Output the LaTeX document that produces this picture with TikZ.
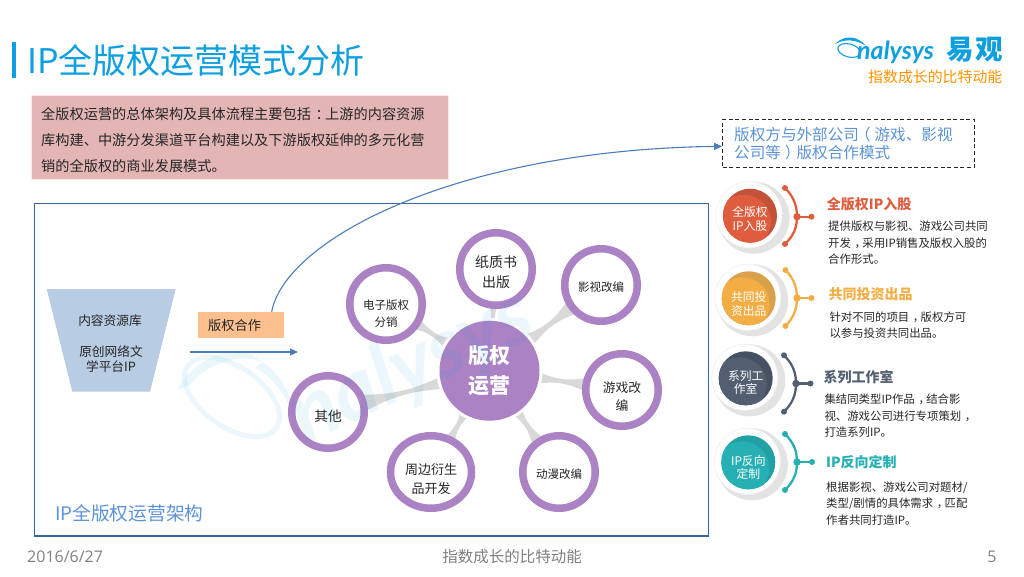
\documentclass[tikz,border=0pt]{standalone}
\usepackage{fontspec}
\setmainfont{Noto Sans CJK SC}
\newfontfamily\latinf{Open Sans}
\newfontfamily\logof{Lato}
\usetikzlibrary{calc,arrows.meta,shapes.geometric}
\definecolor{ringp}{HTML}{AB82C4}
\definecolor{titleb}{HTML}{0E9FE0}
\definecolor{framec}{HTML}{3A659F}
\definecolor{arrowc}{HTML}{4A7EBB}
\definecolor{labelb}{HTML}{5B93D6}
\definecolor{bodyk}{HTML}{262626}
\definecolor{redA}{HTML}{E05C3E}\definecolor{redB}{HTML}{C25239}
\definecolor{orgA}{HTML}{F2AE45}\definecolor{orgB}{HTML}{D9A14C}
\definecolor{slaA}{HTML}{515F70}\definecolor{slaB}{HTML}{465262}
\definecolor{teaA}{HTML}{27B0B3}\definecolor{teaB}{HTML}{22A0A3}
\newcommand\fs[1]{\fontsize{#1}{#1}\selectfont}
\newcommand\fsl[2]{\fontsize{#1}{#2}\selectfont}
% full-width punctuation centred in its cell, as in the reference
\newcommand\pc[1]{\hspace{.32em}#1\hspace{-.32em}}
\newcommand\pl[1]{\hspace{-.25em}#1\hspace{.25em}}
\newcommand\pr[1]{\hspace{.25em}#1\hspace{-.25em}}
\tikzset{
  ring/.style={circle,draw=ringp,line width=7.5pt,fill=white,minimum size=72.5pt,inner sep=0pt},
  ringe/.style={ellipse,draw=ringp,line width=7.5pt,fill=white,minimum width=81pt,minimum height=72.5pt,inner sep=0pt},
  ringtext/.style={inner sep=0pt,align=center,text=bodyk},
  flow/.style={draw=arrowc,line width=1.1pt,-{Triangle[length=8pt,width=7pt]}},
  itemtitle/.style={anchor=west,inner sep=0pt,font=\fs{14}\bfseries},
  itembody/.style={anchor=west,inner sep=0pt,align=left,text=bodyk,font=\fsl{11.4}{16.4}},
  foot/.style={inner sep=0pt,text=black!50},
  badge/.style={inner sep=0pt,align=center,text=white,font=\fsl{11.8}{13.4}}
}
% tapered grey link: a, b, radius at a, radius at b, half-width at a, at b
\newcommand\taper[6]{%
  \path ($(#1)!#3!(#2)$) coordinate (tA) ($(#2)!#4!(#1)$) coordinate (tB);
  \path ($(tA)!.4!(tB)$) coordinate (tM) ($(tA)!.6!(tB)$) coordinate (tN);
  \fill[black!15] ($(tA)!#5!90:(tB)$) .. controls (tM) and (tN) .. ($(tB)!#6!-90:(tA)$)
    -- ($(tB)!#6!90:(tA)$) .. controls (tN) and (tM) .. ($(tA)!#5!-90:(tB)$) -- cycle;
}
% badge disc: x, y, light colour, dark colour, text, node name, text offset
\newcommand\badgedisc[7]{%
  \fill[black!11] (#1+3.6,#2+2) circle (36);
  \filldraw[fill=white,draw=black!5,line width=.7pt] (#1-1,#2-1) circle (33);
  \fill[#4] (#1,#2) circle (27);
  \begin{scope}
    \clip (#1,#2) circle (27);
    \fill[#3] (#1-6,#2+6) circle (27);
  \end{scope}
  \node[badge] (#6) at (#1,#2+#7) {#5};
}
% brace: x of ends, x of mid, x of tip, y top, y mid, y bottom, colour
\newcommand\fork[7]{%
  \draw[#7,line width=2.3pt] (#1,#4) .. controls (#2-4,#4+8) and (#2,#5-12) .. (#2,#5) .. controls (#2,#5+12) and (#2-4,#6-8) .. (#1,#6);
  \draw[#7,line width=2.3pt] (#2,#5) -- (#3,#5);
  \fill[#7] (#1,#4) circle (3) (#1,#6) circle (3) (#2,#5) circle (3.7) (#3,#5) circle (3);
}
\begin{document}
\begin{tikzpicture}[x=1pt,y=-1pt]
\useasboundingbox (0,0) rectangle (1024,576);
% title
\fill[titleb] (12,42) rectangle (16,78);
\node[anchor=west,inner sep=0pt,text=titleb,font=\fs{34}] (title) at (27,60) {IP全版权运营模式分析};
% logo
\draw[titleb,line width=1.1pt,rotate around={-15:(849,50.5)}] (849,50.5) ellipse (11.5 and 6.5);
\fill[titleb] (835,44) .. controls (845,34) and (858,36) .. (866,46) .. controls (857,40) and (846,38) .. (835,44) -- cycle;
\node[anchor=west,inner sep=0pt,text=titleb,font=\logof\itshape\bfseries\fs{25}] (logoname) at (857,52) {nalysys};
\node[anchor=west,inner sep=0pt,text=titleb,font=\bfseries\fs{27.5}] (logocn) at (946,50) {易\hspace{2pt}观};
\node[anchor=west,inner sep=0pt,text=orange!85!yellow,font=\fs{14.9}] (slogan) at (868,77) {指数成长的比特动能};
% intro
\fill[draw=white!90!red,fill={rgb,255:red,228;green,181;blue,181}] (30.7,94.7) rectangle (448.3,179.3);
\node[anchor=west,inner sep=0pt,align=left,text=bodyk,font=\fsl{14.2}{25.8}] (introtext) at (41,140) {全版权运营的总体架构及具体流程主要包括\pc{：}上游的内容资源\\库构建、中游分发渠道平台构建以及下游版权延伸的多元化营\\销的全版权的商业发展模式。};
% dashed box
\node[draw=black!85,dash pattern=on 4pt off 2.6pt,line width=1.3pt,minimum width=251.6pt,minimum height=48pt,inner sep=0pt] (dash) at (848.5,143.3) {};
\node[anchor=west,inner sep=0pt,align=left,text=labelb,font=\fsl{15.6}{18.5}] (dashtext) at (734,143.7) {版权方与外部公司\pl{（}游戏、影视\\公司等\pr{）}版权合作模式};
% frame
\draw[framec,line width=1.4pt] (34.7,203.5) rectangle (708.5,536);
\node[anchor=west,inner sep=0pt,text=labelb,font=\fs{18.7}] (frametitle) at (55,513) {IP全版权运营架构};
% funnel
\fill[fill={rgb,255:red,184;green,204;blue,228}] (46.7,289) -- (175.7,289) -- (150,391.7) -- (72.3,391.7) -- cycle;
\node[inner sep=0pt,text=bodyk,font=\fs{12.7}] (src) at (110,320.5) {内容资源库};
\node[inner sep=0pt,align=center,text=bodyk,font=\fsl{12.7}{14.5}] (orig) at (111,359) {原创网络文\\学平台IP};
% copyright box
\node[fill={rgb,255:red,251;green,192;blue,142},minimum width=86.6pt,minimum height=26pt,inner sep=0pt] (cop) at (241,324.7) {};
\node[anchor=west,inner sep=0pt,text=bodyk,font=\fs{13.2}] (coptext) at (208,325) {版权合作};
\coordinate (flowstart) at (190,352);
\coordinate (flowend) at (298,352);
\coordinate (curvestart) at (271.7,311.7);
\draw[flow] (flowstart) -- (flowend);
\draw[flow] (curvestart) .. controls (285,240) and (455,150) .. ($(dash.west)+(0,3)$);
% hub and spokes
\coordinate (hub) at (489.5,370.7);
\coordinate (c1) at (386,304); \coordinate (c2) at (496,269); \coordinate (c3) at (601,285);
\coordinate (c4) at (622,390); \coordinate (c5) at (559,472); \coordinate (c6) at (431,472); \coordinate (c7) at (328,412);
\taper{hub}{c1}{40pt}{30pt}{10pt}{8pt}
\taper{hub}{c2}{40pt}{30pt}{8pt}{8pt}
\taper{hub}{c3}{40pt}{30pt}{10pt}{10pt}
\taper{hub}{c4}{40pt}{30pt}{9pt}{9pt}
\taper{hub}{c5}{40pt}{30pt}{9pt}{10pt}
\taper{hub}{c6}{40pt}{30pt}{9pt}{9pt}
\taper{hub}{c7}{40pt}{30pt}{8pt}{10pt}
\node[circle,fill=white,minimum size=106pt,inner sep=0pt] (hubhalo) at (hub) {};
\node[circle,fill=ringp,minimum size=100pt,inner sep=0pt,align=center,text=white,font=\bfseries\fsl{21}{29.5}] (hubnode) at (hub) {版权\\运营};
\node[ring] (n1) at (c1) {};
\node[ring] (n2) at (c2) {};
\node[ring] (n3) at (c3) {};
\node[ring] (n4) at (c4) {};
\node[ring] (n5) at (c5) {};
\node[ringe] (n6) at (c6) {};
\node[ring] (n7) at (c7) {};
\node[ringtext,font=\fsl{11.5}{17}] (l1) at ($(c1)+(0,10)$) {电子版权\\分销};
\node[ringtext,font=\fsl{14}{20}] (l2) at ($(c2)+(0,3)$) {纸质书\\出版};
\node[ringtext,font=\fs{11.5}] (l3) at ($(c3)+(0,2)$) {影视改编};
\node[ringtext,font=\fsl{12.8}{18}] (l4) at ($(c4)+(0,7)$) {游戏改\\编};
\node[ringtext,font=\fs{11.5}] (l5) at ($(c5)+(0,2)$) {动漫改编};
\node[ringtext,font=\fsl{13}{18.3}] (l6) at ($(c6)+(0,7)$) {周边衍生\\品开发};
\node[ringtext,font=\fs{13.7}] (l7) at ($(c7)+(0,4)$) {其他};
% right-hand items
\badgedisc{750}{215.7}{redA}{redB}{全版权\\IP入股}{b1}{3.4}
\fork{785}{797}{811.5}{188}{216.7}{244}{redA}
\node[itemtitle,text=redA] (t1) at (826.7,204.3) {全版权IP入股};
\node[itembody] (d1) at (828,243) {提供版权与影视、游戏公司共同\\开发\pc{，}采用IP销售及版权入股的\\合作形式。};
\badgedisc{748.7}{298.3}{orgA}{orgB}{共同投\\资出品}{b2}{5.7}
\fork{785.5}{797}{811.5}{270}{298}{326}{orgA}
\node[itemtitle,text=orgA] (t2) at (828.3,294.3) {共同投资出品};
\node[itembody,font=\fsl{11.4}{15.7}] (d2) at (829.3,325.5) {针对不同的项目\pc{，}版权方可\\以参与投资共同出品。};
\badgedisc{745.7}{378.3}{slaA}{slaB}{系列工\\作室}{b3}{4}
\fork{784}{796}{810.5}{355.3}{383.5}{411.7}{slaA}
\node[itemtitle,text=slaA] (t3) at (823.3,376.7) {系列工作室};
\node[itembody] (d3) at (824.3,415.7) {集结同类型IP作品\pc{，}结合影\\视、游戏公司进行专项策划\pc{，}\\打造系列IP。};
\badgedisc{748.3}{462.3}{teaA}{teaB}{IP反向\\定制}{b4}{5}
\fork{785}{797}{812}{434}{462}{490}{teaA}
\node[itemtitle,text=teaA] (t4) at (826,462.3) {IP反向定制};
\node[itembody] (d4) at (826,503.3) {根据影视、游戏公司对题材/\\类型/剧情的具体需求\pc{，}匹配\\作者共同打造IP。};
% footer
\node[foot,anchor=west,font=\latinf\fs{16}] (date) at (27,557) {2016/6/27};
\node[foot,font=\fs{15.5}] (tag) at (512,557) {指数成长的比特动能};
\node[foot,font=\latinf\fs{16}] (page) at (992,557) {5};
% watermark
\begin{scope}[opacity=.08]
\node[inner sep=0pt,rotate=25,text=titleb,font=\logof\itshape\bfseries\fs{84}] (wm) at (412,368) {nalysys};
\fill[titleb] (177,390) .. controls (195,355) and (240,340) .. (262,362) .. controls (238,352) and (205,365) .. (190,385) -- cycle;
\draw[titleb,line width=5pt,rotate around={-35:(232,397)}] (232,397) ellipse (54 and 30);
\fill[titleb] (262,362) .. controls (280,372) and (292,395) .. (296,420) .. controls (285,395) and (275,378) .. (255,368) -- cycle;
\end{scope}
\end{tikzpicture}
\end{document}
